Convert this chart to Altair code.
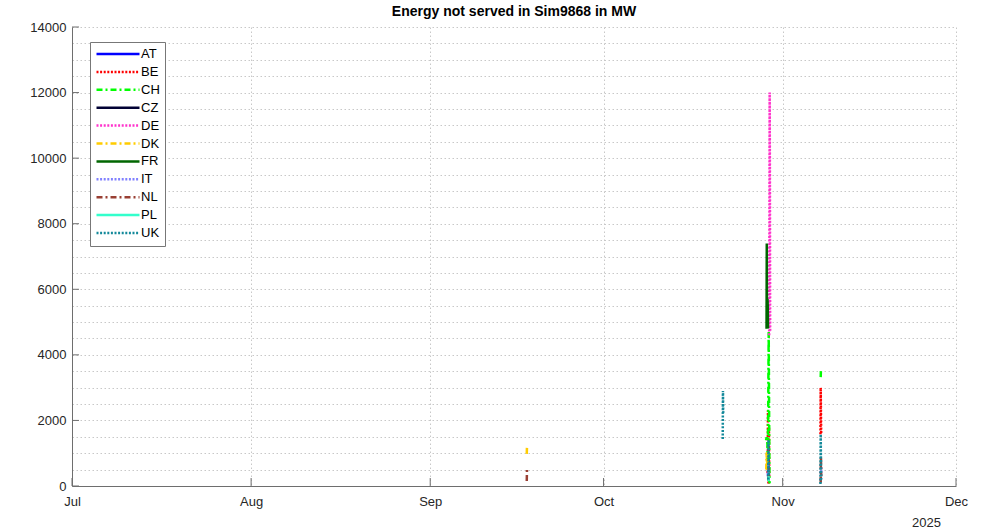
import altair as alt
import pandas as pd

# Energy not served (MW) per country, hourly; hours with no shortfall are omitted.
AT = [("2025-10-29T11:00", 300), ("2025-10-29T12:00", 900), ("2025-10-29T13:00", 500)]
BE = [("2025-10-29T10:00", 400), ("2025-10-29T11:00", 2300), ("2025-10-29T12:00", 1200),
      ("2025-10-29T13:00", 50), ("2025-10-29T14:00", 600), ("2025-10-29T15:00", 1800),
      ("2025-10-29T16:00", 300),
      ("2025-11-07T13:00", 1580), ("2025-11-07T14:00", 3000), ("2025-11-07T15:00", 2200),
      ("2025-11-07T16:00", 1600)]
CH = [("2025-10-29T03:00", 1450), ("2025-10-29T04:00", 1400), ("2025-10-29T05:00", 1480),
      ("2025-10-29T06:00", 1420), ("2025-10-29T07:00", 1500), ("2025-10-29T08:00", 1450),
      ("2025-10-29T09:00", 1200), ("2025-10-29T10:00", 600), ("2025-10-29T11:00", 1500),
      ("2025-10-29T12:00", 2400), ("2025-10-29T13:00", 3600), ("2025-10-29T14:00", 4700),
      ("2025-10-29T15:00", 3200), ("2025-10-29T16:00", 1800), ("2025-10-29T17:00", 150),
      ("2025-10-29T18:00", 80),
      ("2025-11-07T14:00", 3320), ("2025-11-07T15:00", 3560)]
CZ = [("2025-10-29T12:00", 200), ("2025-10-29T13:00", 350)]
DE = [("2025-10-29T16:00", 4600), ("2025-10-29T17:00", 8000), ("2025-10-29T18:00", 12000),
      ("2025-10-29T19:00", 9500), ("2025-10-29T20:00", 4700),
      ("2025-11-07T15:00", 400), ("2025-11-07T16:00", 600)]
DK = [("2025-09-17T17:00", 980), ("2025-09-17T18:00", 1220),
      ("2025-10-29T04:00", 500), ("2025-10-29T05:00", 1000), ("2025-10-29T06:00", 750),
      ("2025-10-29T07:00", 1050), ("2025-10-29T08:00", 600), ("2025-10-29T09:00", 450)]
FR = [("2025-10-29T05:00", 4800), ("2025-10-29T06:00", 7400), ("2025-10-29T07:00", 5000),
      ("2025-10-29T08:00", 5600), ("2025-10-29T09:00", 5700), ("2025-10-29T10:00", 5500),
      ("2025-10-29T11:00", 4800)]
IT = [("2025-10-29T12:00", 250), ("2025-10-29T13:00", 700),
      ("2025-11-07T15:00", 200), ("2025-11-07T16:00", 500)]
NL = [("2025-09-17T17:00", 150), ("2025-09-17T18:00", 520),
      ("2025-10-29T13:00", 150), ("2025-10-29T14:00", 600), ("2025-10-29T15:00", 250),
      ("2025-11-07T14:00", 100), ("2025-11-07T15:00", 900), ("2025-11-07T16:00", 300)]
PL = [("2025-10-29T13:00", 150), ("2025-10-29T14:00", 300)]
UK = [("2025-10-21T15:00", 1430), ("2025-10-21T16:00", 2900), ("2025-10-21T17:00", 2200),
      ("2025-10-29T12:00", 200), ("2025-10-29T13:00", 1400), ("2025-10-29T14:00", 800),
      ("2025-10-29T15:00", 300),
      ("2025-11-07T13:00", 60), ("2025-11-07T14:00", 1580), ("2025-11-07T15:00", 700),
      ("2025-11-07T16:00", 200)]

countries = ["AT", "BE", "CH", "CZ", "DE", "DK", "FR", "IT", "NL", "PL", "UK"]
series = [AT, BE, CH, CZ, DE, DK, FR, IT, NL, PL, UK]
colors = ["#0000ff", "#ff0000", "#00ff00", "#000033", "#ff33cc", "#ffcc00",
          "#006600", "#8080ff", "#993f33", "#33ffcc", "#13899a"]
solid, dotted, dashdot = [1, 0], [2, 1.6], [6, 3, 2, 3]
dashes = [solid, dotted, dashdot, solid, dotted, dashdot,
          solid, dotted, dashdot, solid, dotted]

month_ticks = ["2025-07-01T00:00", "2025-08-01T00:00", "2025-09-01T00:00",
               "2025-10-01T00:00", "2025-11-01T00:00", "2025-12-01T00:00"]
y_ticks = list(range(0, 14001, 2000))
y_grid = list(range(0, 14001, 500))

rows = []
for name, pts in zip(countries, series):
    for t, v in pts:
        rows.append({"time": t, "mw": v, "country": name, "day": t[:10]})
df = pd.DataFrame(rows)

FONT = "Liberation Sans"
W, H = 884, 459
GRID = dict(gridColor="#c8c8c8", gridDash=[1.5, 2.5], gridWidth=1)
LABEL = dict(labelFont=FONT, labelFontSize=13, labelColor="#262626",
             domainColor="#6e6e6e", domainWidth=1)

x_scale = alt.Scale(domain=[month_ticks[0], month_ticks[-1]], nice=False)
y_scale = alt.Scale(domain=[0, 14000], nice=False)

x_axis = alt.Axis(values=month_ticks, format="%b", title="2025",
                  grid=True, ticks=False, labelFlush=False,
                  labelPadding=9, titleX=854, titleY=36,
                  titleAlign="center", titleBaseline="middle",
                  titleFont=FONT, titleFontSize=13, titleFontWeight="normal",
                  titleColor="#262626", **GRID, **LABEL)
y_axis = alt.Axis(values=y_grid, format="d", title=None, ticks=False,
                  labelOverlap=False, labelPadding=6,
                  labelExpr="datum.value % 2000 === 0 ? datum.label : ''",
                  **GRID, **LABEL)

legend = alt.Legend(
    title=None, orient="none", legendX=18, legendY=15,
    symbolType="stroke", symbolSize=1849, symbolStrokeWidth=2.5,
    clipHeight=14, rowPadding=3.9, padding=5, labelOffset=0,
    labelFont=FONT, labelFontSize=13, labelColor="#000000",
    strokeColor="#777777", fillColor="#ffffff", cornerRadius=0,
)

lines = alt.Chart(df).mark_line(strokeWidth=2.5, strokeCap="butt").encode(
    x=alt.X("time:T", scale=x_scale, axis=x_axis),
    y=alt.Y("mw:Q", scale=y_scale, axis=y_axis),
    color=alt.Color("country:N", scale=alt.Scale(domain=countries, range=colors), legend=legend),
    strokeDash=alt.StrokeDash("country:N", scale=alt.Scale(domain=countries, range=dashes), legend=legend),
    detail="day:N",
    order="time:T",
)

# inward tick marks on both axes
ytick = alt.Chart(pd.DataFrame({"v": y_ticks})).mark_rule(color="#6e6e6e", strokeWidth=1).encode(
    y=alt.Y("v:Q", scale=y_scale, axis=y_axis), x=alt.value(0), x2=alt.value(7))
xtick = alt.Chart(pd.DataFrame({"t": month_ticks})).mark_rule(color="#6e6e6e", strokeWidth=1).encode(
    x=alt.X("t:T", scale=x_scale, axis=x_axis), y=alt.value(H), y2=alt.value(H - 8))

chart = alt.layer(lines, ytick, xtick).properties(
    width=W, height=H,
    background="#ffffff",
    autosize=alt.AutoSizeParams(type="none"),
    padding={"left": 72, "top": 27, "right": 29, "bottom": 44},
    title=alt.TitleParams("Energy not served in Sim9868 in MW", font=FONT, fontSize=14,
                          fontWeight="bold", color="#000000", anchor="middle", offset=2),
).configure_view(stroke=None)

chart.save("out.html", embed_options={"renderer": "svg", "actions": False})
